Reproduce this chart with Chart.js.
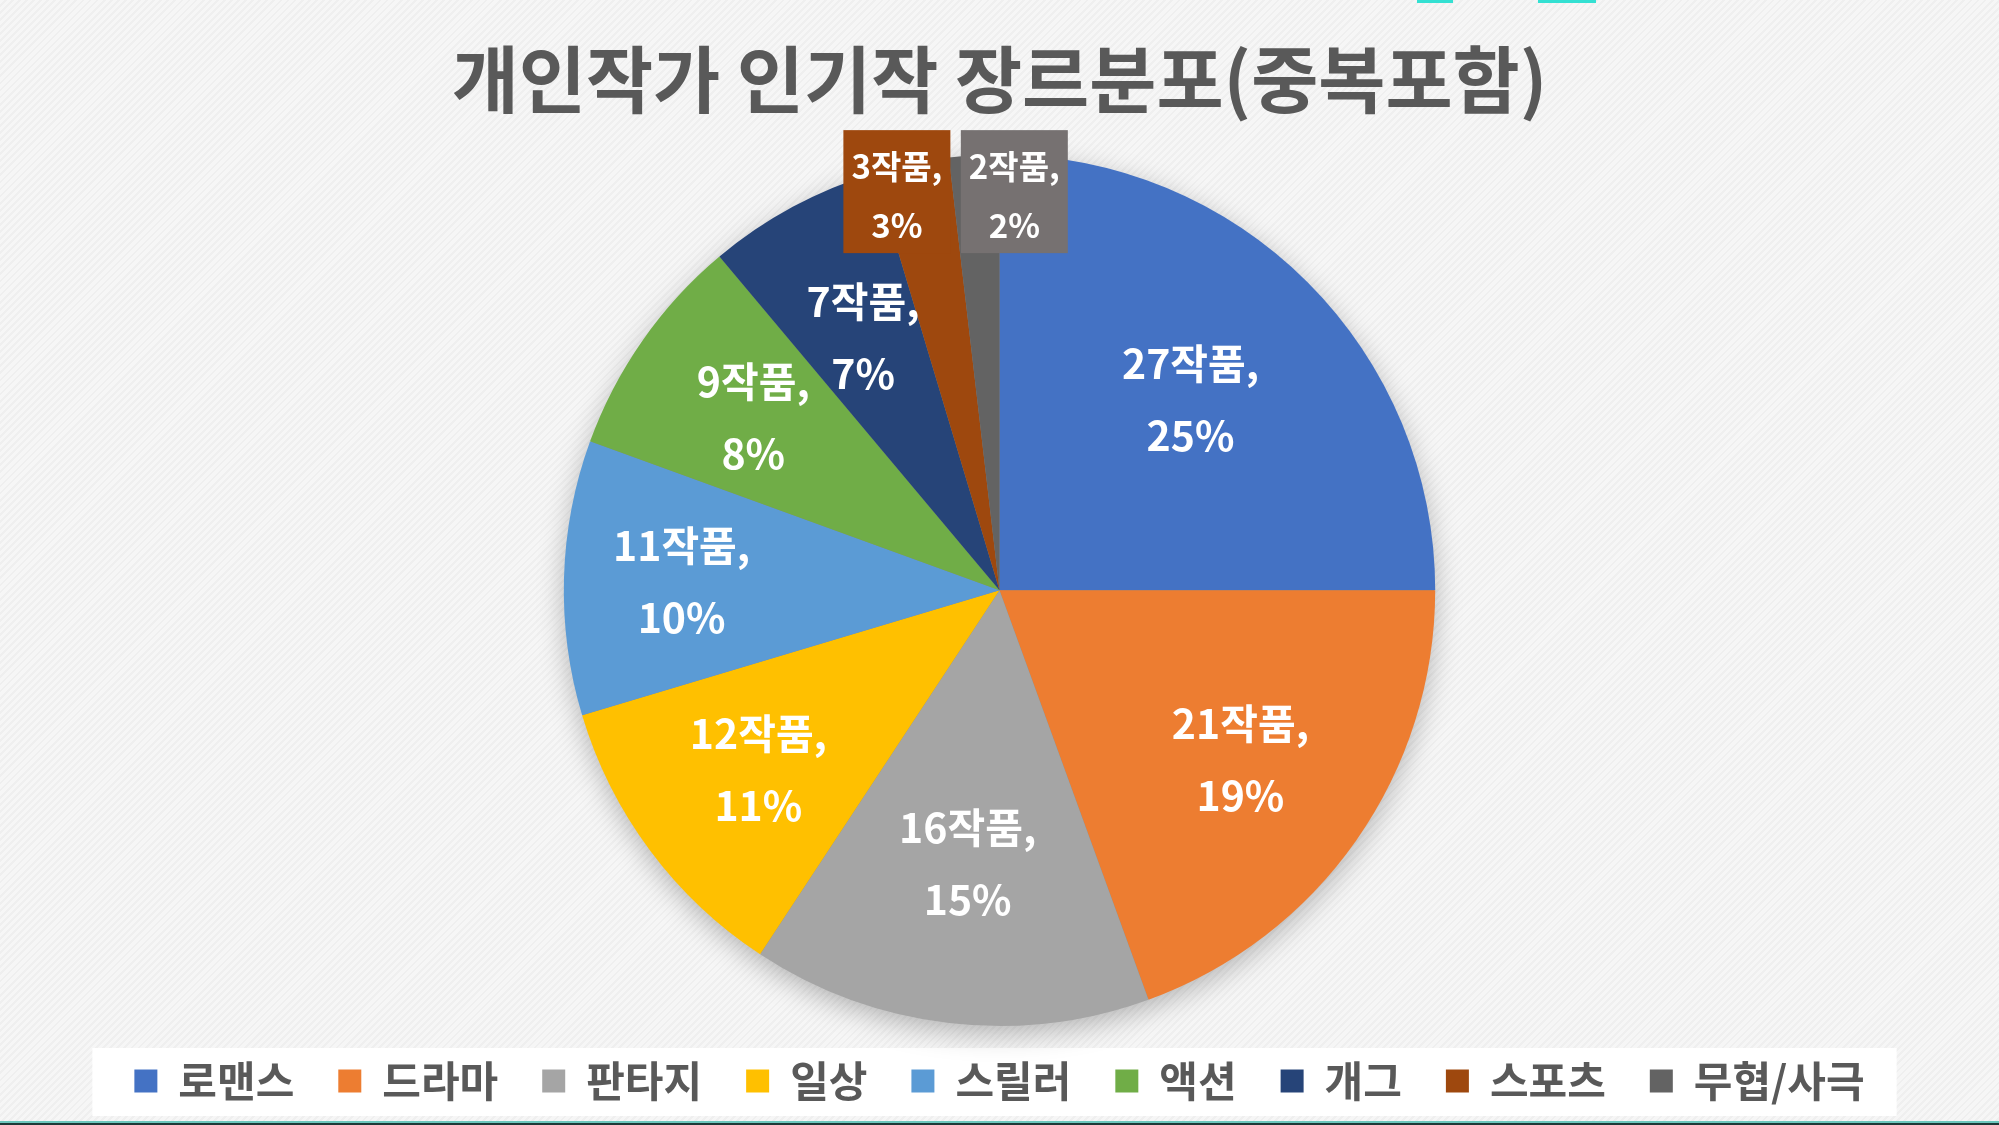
<!DOCTYPE html>
<html>
<head>
  <meta charset="utf-8">
  <title>개인작가 인기작 장르분포(중복포함)</title>
  <script src="https://cdn.jsdelivr.net/npm/chart.js"></script>
  <style>
    html, body {
      margin: 0;
      padding: 0;
    }
    body {
      width: 1999px;
      height: 1125px;
      overflow: hidden;
      position: relative;
      background: repeating-linear-gradient(135deg, #f6f6f6 0px, #f6f6f6 3px, #efefef 3px, #efefef 5px);
      font-family: "Noto Sans CJK KR", sans-serif;
    }
    .chart-box {
      position: absolute;
      left: 0;
      top: 0;
      width: 1999px;
      height: 1121px;
    }
    .tab {
      position: absolute;
      top: 0;
      height: 3px;
      background: #33e0d2;
    }
    .bottom-rule {
      position: absolute;
      left: 0;
      bottom: 0;
      width: 1999px;
      height: 2px;
      background: #6cc7bd;
      border-bottom: 2px solid #1d3a38;
    }
  </style>
</head>
<body>

  <div class="tab" style="left:1417px; width:36px;"></div>
  <div class="tab" style="left:1538px; width:58px;"></div>

  <div class="chart-box">
    <canvas id="genreChart"></canvas>
  </div>
  <div class="bottom-rule"></div>

  <script>
    // values
    const genres = ['로맨스', '드라마', '판타지', '일상', '스릴러', '액션', '개그', '스포츠', '무협/사극'];
    const workCounts = [27, 21, 16, 12, 11, 9, 7, 3, 2];
    const percentLabels = [25, 19, 15, 11, 10, 8, 7, 3, 2];
    const sliceColors = ['#4472C4', '#ED7D31', '#A5A5A5', '#FFC000', '#5B9BD5', '#70AD47', '#264478', '#9E480E', '#636363'];

    const FONT = '"Noto Sans CJK KR", "Noto Sans", sans-serif';

    // legend spacing is wide, but the pie should still reach down close to it
    const stretchArea = {
      id: 'stretchArea',
      afterLayout(chart) {
        chart.chartArea.bottom += 10;
        chart.chartArea.height += 10;
      }
    };

    // soft shadow under the whole pie
    const pieShadow = {
      id: 'pieShadow',
      beforeDatasetsDraw(chart) {
        const arc = chart.getDatasetMeta(0).data[0];
        if (!arc) return;
        const ctx = chart.ctx;
        ctx.save();
        ctx.shadowColor = 'rgba(0,0,0,0.28)';
        ctx.shadowBlur = 28;
        ctx.shadowOffsetY = 8;
        ctx.fillStyle = '#888';
        ctx.beginPath();
        ctx.arc(arc.x, arc.y, arc.outerRadius - 1, 0, Math.PI * 2);
        ctx.fill();
        ctx.restore();
      }
    };

    // white panel behind the legend row
    const legendPanel = {
      id: 'legendPanel',
      beforeDraw(chart) {
        const lg = chart.legend;
        if (!lg || !lg.lineWidths) return;
        const pad = lg.options.labels.padding;
        const fontSize = lg.options.labels.font.size;
        const rowW = lg.lineWidths[0];
        const start = (lg.left + pad + lg.right - rowW) / 2;
        const end = start + rowW - pad;
        const midY = lg.top + pad + fontSize / 2;
        const ctx = chart.ctx;
        ctx.save();
        ctx.fillStyle = '#ffffff';
        ctx.fillRect(start - 42, midY - 33, end - start + 74, 68);
        ctx.restore();
      }
    };

    // "N작품, / P%" labels inside the slices, boxed callouts for the small ones
    const sliceLabels = {
      id: 'sliceLabels',
      afterDatasetsDraw(chart, args, opts) {
        const ctx = chart.ctx;
        const arcs = chart.getDatasetMeta(0).data;
        arcs.forEach((arc, i) => {
          const mid = (arc.startAngle + arc.endAngle) / 2;
          const r = arc.outerRadius;
          const line1 = workCounts[i] + '작품,';
          const line2 = percentLabels[i] + '%';
          ctx.save();
          ctx.textAlign = 'center';
          ctx.textBaseline = 'middle';
          ctx.fillStyle = '#ffffff';
          if (i < opts.insideCount) {
            const d = r * opts.radius[i];
            const x = arc.x + Math.cos(mid) * d;
            const y = arc.y + Math.sin(mid) * d;
            ctx.font = 'bold 41px ' + FONT;
            ctx.fillText(line1, x, y - 36);
            ctx.fillText(line2, x, y + 36);
          } else {
            const d = r * 0.915;
            const x = arc.x + Math.cos(mid) * d + opts.calloutShift[i - opts.insideCount];
            const y = arc.y - d;
            const w = 107, h = 123;
            ctx.fillStyle = opts.calloutFill[i - opts.insideCount];
            ctx.fillRect(x - w / 2, y - h / 2, w, h);
            ctx.fillStyle = '#ffffff';
            ctx.font = 'bold 33px ' + FONT;
            ctx.fillText(line1, x, y - 25);
            ctx.fillText(line2, x, y + 34);
          }
          ctx.restore();
        });
      }
    };

    const ctx = document.getElementById('genreChart').getContext('2d');
    new Chart(ctx, {
      type: 'pie',
      data: {
        labels: genres,
        datasets: [{
          data: workCounts,
          backgroundColor: sliceColors,
          borderWidth: 0
        }]
      },
      options: {
        responsive: true,
        maintainAspectRatio: false,
        animation: false,
        layout: {
          padding: { top: 0, bottom: 9 }
        },
        plugins: {
          title: {
            display: true,
            text: '개인작가 인기작 장르분포(중복포함)',
            color: '#595959',
            font: { family: FONT, size: 73, weight: 'bold' },
            padding: { top: 35, bottom: 32 }
          },
          legend: {
            position: 'bottom',
            labels: {
              color: '#595959',
              font: { family: FONT, size: 42, weight: 'bold' },
              boxWidth: 23,
              boxHeight: 23,
              padding: 44
            }
          },
          tooltip: { enabled: false },
          sliceLabels: {
            insideCount: 7,
            radius: [0.62, 0.675, 0.63, 0.69, 0.73, 0.69, 0.66],
            calloutShift: [-22, 38],
            calloutFill: ['#9E480E', '#767171']
          }
        }
      },
      plugins: [stretchArea, pieShadow, legendPanel, sliceLabels]
    });
  </script>

</body>
</html>
